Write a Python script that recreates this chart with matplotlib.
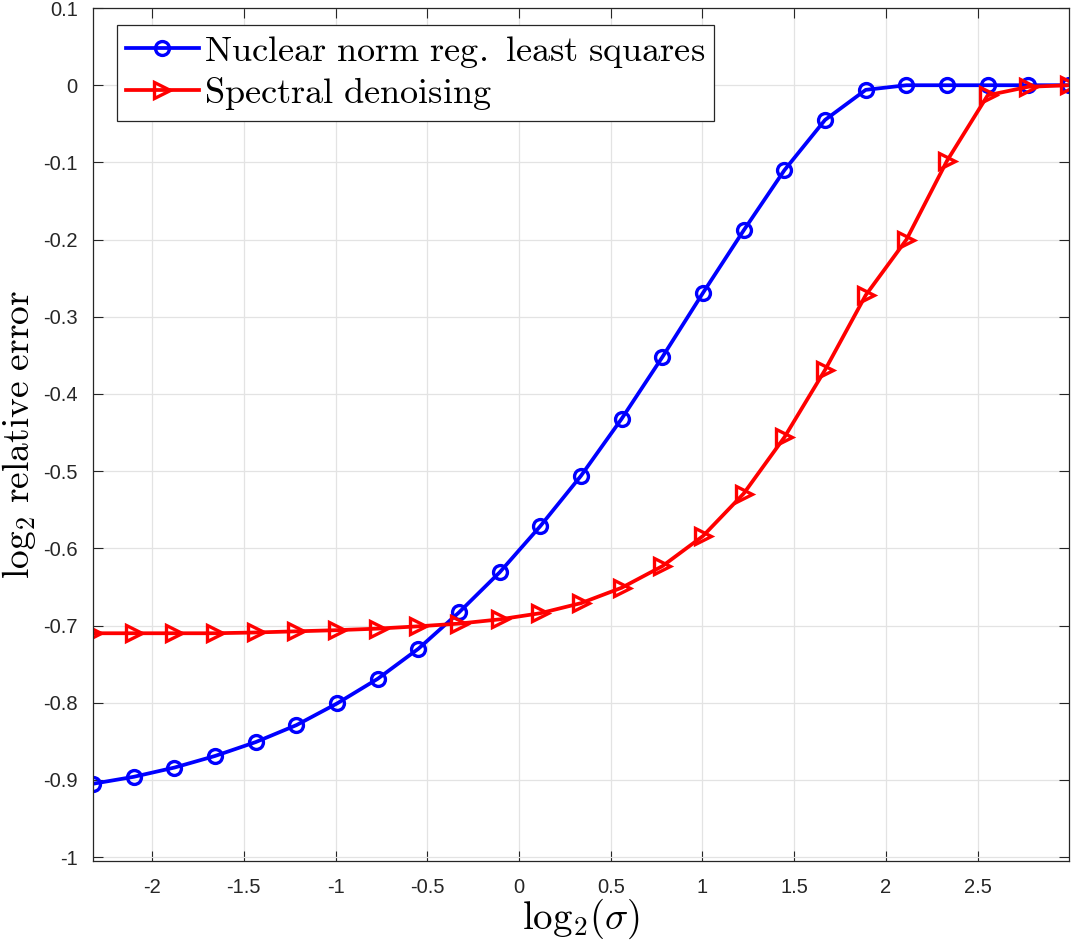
import matplotlib
matplotlib.use("Agg")
import matplotlib.pyplot as plt

# log2(sigma) sample points
x_vals = [-2.322, -2.100, -1.878, -1.657, -1.435, -1.213, -0.992, -0.770,
          -0.548, -0.327, -0.105, 0.117, 0.338, 0.560, 0.782, 1.003,
          1.225, 1.447, 1.668, 1.890, 2.112, 2.333, 2.555, 2.777, 2.998]

nuclear_norm = [-0.905, -0.896, -0.884, -0.869, -0.851, -0.829, -0.801, -0.769,
                -0.730, -0.683, -0.631, -0.571, -0.506, -0.432, -0.352, -0.269,
                -0.188, -0.110, -0.045, -0.006, 0.0, 0.0, 0.0, 0.0, 0.0]

spectral = [-0.710, -0.710, -0.710, -0.710, -0.709, -0.7075, -0.706, -0.704,
            -0.701, -0.6975, -0.692, -0.684, -0.671, -0.651, -0.623, -0.584,
            -0.529, -0.456, -0.369, -0.272, -0.200, -0.098, -0.013, -0.002, 0.0]

x_ticks = [-2, -1.5, -1, -0.5, 0, 0.5, 1, 1.5, 2, 2.5]
x_ticklabels = ["-2", "-1.5", "-1", "-0.5", "0", "0.5", "1", "1.5", "2", "2.5"]
y_ticks = [-1, -0.9, -0.8, -0.7, -0.6, -0.5, -0.4, -0.3, -0.2, -0.1, 0, 0.1]
y_ticklabels = ["-1", "-0.9", "-0.8", "-0.7", "-0.6", "-0.5", "-0.4", "-0.3",
                "-0.2", "-0.1", "0", "0.1"]

plt.rcParams["mathtext.fontset"] = "cm"
plt.rcParams["font.family"] = ["Liberation Sans", "DejaVu Sans"]

fig = plt.figure(figsize=(10.8, 9.46), dpi=100)
ax = fig.add_axes([0.0861, 0.0899, 0.9037, 0.9016])

ax.plot(x_vals, nuclear_norm, color="#0000ff", lw=2.7, marker="o", ms=10,
        mfc="none", mew=2.4, label=r"$\mathrm{Nuclear\ norm\ reg.\ least\ squares}$")
ax.plot(x_vals, spectral, color="#ff0000", lw=2.7, marker=">", ms=12,
        mfc="none", mew=2.4, label=r"$\mathrm{Spectral\ denoising}$")

ax.set_xlim(-2.322, 2.998)
ax.set_ylim(-1.005, 0.1)
ax.set_xticks(x_ticks)
ax.set_xticklabels(x_ticklabels)
ax.set_yticks(y_ticks)
ax.set_yticklabels(y_ticklabels)
ax.tick_params(direction="in", top=True, right=True, length=7, width=0.8,
               labelsize=14.5, colors="#262626", pad=11)
ax.tick_params(axis="x", pad=12)
ax.grid(True, color="#e3e3e3", lw=0.9)
ax.set_axisbelow(True)
for s in ax.spines.values():
    s.set_color("#262626")
    s.set_linewidth(0.9)

ax.set_xlabel(r"$\mathrm{log}_2(\sigma)$", fontsize=28, labelpad=0)
ax.set_ylabel(r"$\mathrm{log}_2\ \mathrm{relative\ error}$", fontsize=27, labelpad=4)

leg = ax.legend(loc="upper left", fontsize=26.1, fancybox=False, framealpha=1,
                edgecolor="#262626", borderpad=0.25, borderaxespad=0,
                handlelength=2.0, handletextpad=0.15, labelspacing=0.12,
                bbox_to_anchor=(0.0246, 0.980))
leg.get_frame().set_linewidth(0.9)

fig.savefig("out.png", dpi=100)
